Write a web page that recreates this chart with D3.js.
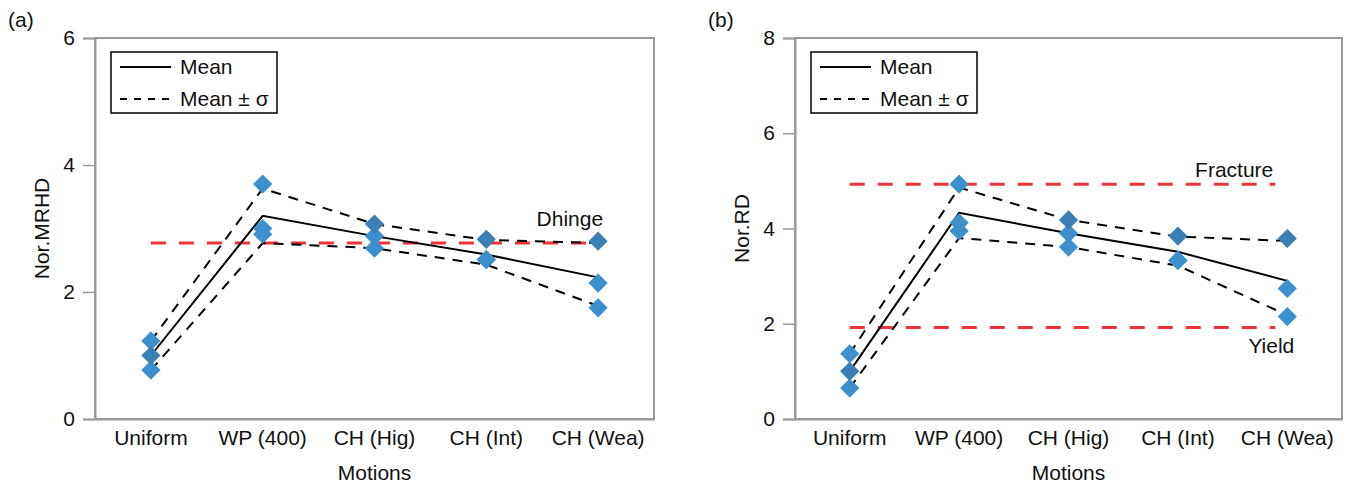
<!DOCTYPE html>
<html>
<head>
<meta charset="utf-8">
<script src="https://cdn.jsdelivr.net/npm/d3@7"></script>
<style>
  html, body { margin: 0; padding: 0; background: #fff; }
  svg { display: block; font-family: "Liberation Sans", Arial, Helvetica, sans-serif; }
</style>
</head>
<body>
<svg id="chart" width="1348" height="486"></svg>
<script>
// ---- Data ----
const categories = ["Uniform", "WP (400)", "CH (Hig)", "CH (Int)", "CH (Wea)"];

// Panel (a): Nor.MRHD
const mrhdPoints = [
  [1.23, 1.00, 0.77],
  [3.70, 3.00, 2.91],
  [3.07, 2.88, 2.69],
  [2.83, 2.51, 2.51],
  [2.80, 2.14, 1.75]
];
const mrhdMean  = [1.00, 3.20, 2.88, 2.59, 2.23];
const mrhdUpper = [1.23, 3.63, 3.07, 2.82, 2.77];
const mrhdLower = [0.77, 2.77, 2.69, 2.43, 1.78];
const mrhdTicks = [0, 2, 4, 6];
const dhinge = 2.77;

// Panel (b): Nor.RD
const rdPoints = [
  [1.37, 1.00, 0.65],
  [4.93, 4.12, 3.95],
  [4.18, 3.90, 3.61],
  [3.84, 3.33, 3.33],
  [3.79, 2.74, 2.15]
];
const rdMean  = [1.00, 4.33, 3.90, 3.51, 2.90];
const rdUpper = [1.37, 4.86, 4.18, 3.83, 3.74];
const rdLower = [0.65, 3.80, 3.61, 3.22, 2.18];
const rdTicks = [0, 2, 4, 6, 8];
const fracture = 4.93;
const yieldLevel = 1.92;

// index of the darker diamond per category (-1 = none)
const darkIndex = [1, -1, 0, 0, 0];

const svg = d3.select("#chart");
const FONT = 21;
const AXIS_GRAY = "#9a9a9a";
const BLUE = "#3b90cd";
const BLUE_DARK = "#3a7fb6";
const RED = "#e8333a";

function drawPanel(o) {
  const g = svg.append("g");
  const x = d3.scaleBand().domain(categories).range([o.left, o.right]);
  const y = d3.scaleLinear().domain([0, o.yMax]).range([o.bottom, o.top]);
  const cx = c => x(c) + x.bandwidth() / 2;

  // frame (top & right)
  g.append("rect")
    .attr("x", o.left).attr("y", o.top)
    .attr("width", o.right - o.left).attr("height", o.bottom - o.top)
    .attr("fill", "none").attr("stroke", AXIS_GRAY).attr("stroke-width", 2);

  // y axis
  const ya = g.append("g").attr("transform", `translate(${o.left},0)`)
    .call(d3.axisLeft(y).tickValues(o.ticks).tickSize(12).tickPadding(8).tickFormat(d3.format("d")));
  ya.select(".domain").attr("stroke", AXIS_GRAY).attr("stroke-width", 2);
  ya.selectAll(".tick line").attr("stroke", AXIS_GRAY).attr("stroke-width", 1.5);
  ya.selectAll("text").attr("font-size", FONT).attr("fill", "#111").style("font-family", "inherit");

  // x axis
  const xa = g.append("g").attr("transform", `translate(0,${o.bottom})`)
    .call(d3.axisBottom(x).tickSize(0).tickPadding(11));
  xa.select(".domain").attr("stroke", AXIS_GRAY).attr("stroke-width", 2);
  xa.selectAll("text").attr("font-size", FONT).attr("fill", "#111").style("font-family", "inherit");

  // axis titles
  g.append("text").attr("x", (o.left + o.right) / 2).attr("y", 480)
    .attr("text-anchor", "middle").attr("font-size", FONT).attr("fill", "#111").text("Motions");
  g.append("text").attr("transform", `translate(${o.left - 46},${(o.top + o.bottom) / 2}) rotate(-90)`)
    .attr("text-anchor", "middle").attr("font-size", FONT).attr("fill", "#111").text(o.yLabel);

  // panel label
  g.append("text").attr("x", o.left - 87).attr("y", 27)
    .attr("font-size", FONT).attr("fill", "#111").text(o.panel);

  // red reference lines
  const x0 = cx(categories[0]), x1 = cx(categories[categories.length - 1]) - 12;
  o.refs.forEach(r => {
    g.append("line").attr("x1", x0).attr("x2", x1)
      .attr("y1", y(r.value)).attr("y2", y(r.value))
      .attr("stroke", RED).attr("stroke-width", 3).attr("stroke-dasharray", "15,13");
  });

  // lines
  const line = d3.line().x((d, i) => cx(categories[i])).y(d => y(d));
  g.append("path").attr("d", line(o.upper)).attr("fill", "none")
    .attr("stroke", "#000").attr("stroke-width", 2).attr("stroke-dasharray", "10,8");
  g.append("path").attr("d", line(o.lower)).attr("fill", "none")
    .attr("stroke", "#000").attr("stroke-width", 2).attr("stroke-dasharray", "10,8");
  g.append("path").attr("d", line(o.mean)).attr("fill", "none")
    .attr("stroke", "#000").attr("stroke-width", 2);

  // diamonds
  const sym = d3.symbol().type(d3.symbolSquare).size(185);
  const pts = [];
  o.points.forEach((arr, i) => arr.forEach((v, j) => pts.push({ c: categories[i], v, dark: darkIndex[i] === j })));
  pts.sort((a, b) => a.dark - b.dark);
  g.selectAll("path.pt").data(pts).enter().append("path").attr("class", "pt")
    .attr("d", sym)
    .attr("transform", d => `translate(${cx(d.c)},${y(d.v)}) rotate(45)`)
    .attr("fill", d => d.dark ? BLUE_DARK : BLUE);

  // reference labels
  o.refs.forEach(r => {
    g.append("text").attr("x", x1 + r.dx).attr("y", y(r.value) + r.dy)
      .attr("text-anchor", "end").attr("font-size", FONT).attr("fill", "#111").text(r.label);
  });

  // legend
  const lg = g.append("g").attr("transform", `translate(${o.left + 16},52)`);
  lg.append("rect").attr("width", 166).attr("height", 61)
    .attr("fill", "#fff").attr("stroke", "#000").attr("stroke-width", 1.5);
  lg.append("line").attr("x1", 9).attr("x2", 60).attr("y1", 15).attr("y2", 15)
    .attr("stroke", "#000").attr("stroke-width", 2);
  lg.append("line").attr("x1", 9).attr("x2", 60).attr("y1", 47).attr("y2", 47)
    .attr("stroke", "#000").attr("stroke-width", 2).attr("stroke-dasharray", "7,7");
  lg.append("text").attr("x", 69).attr("y", 22).attr("font-size", FONT).attr("fill", "#111").text("Mean");
  lg.append("text").attr("x", 69).attr("y", 54).attr("font-size", FONT).attr("fill", "#111").text("Mean \u00B1 \u03C3");
}

drawPanel({
  left: 95, right: 654, top: 38, bottom: 419, yMax: 6, ticks: mrhdTicks,
  points: mrhdPoints, mean: mrhdMean, upper: mrhdUpper, lower: mrhdLower,
  yLabel: "Nor.MRHD", panel: "(a)",
  refs: [{ value: dhinge, label: "Dhinge", dx: 17, dy: -17 }]
});

drawPanel({
  left: 795, right: 1342, top: 38, bottom: 419, yMax: 8, ticks: rdTicks,
  points: rdPoints, mean: rdMean, upper: rdUpper, lower: rdLower,
  yLabel: "Nor.RD", panel: "(b)",
  refs: [
    { value: fracture, label: "Fracture", dx: -2, dy: -7 },
    { value: yieldLevel, label: "Yield", dx: 19, dy: 25 }
  ]
});
</script>
</body>
</html>
